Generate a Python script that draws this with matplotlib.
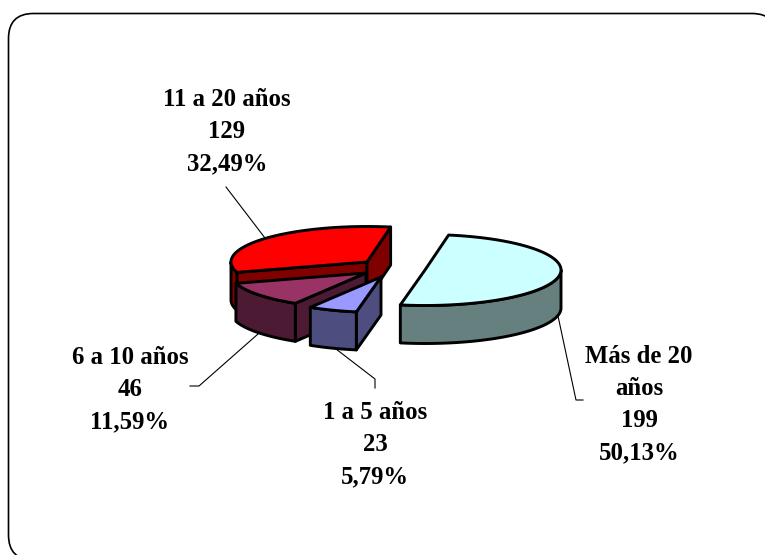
import numpy as np
import matplotlib
matplotlib.use("Agg")
import matplotlib.pyplot as plt
from matplotlib.patches import FancyBboxPatch, Polygon

categories = ["Más de 20\naños", "1 a 5 años", "6 a 10 años", "11 a 20 años"]
values = [199, 23, 46, 129]
percents = ["50,13%", "5,79%", "11,59%", "32,49%"]

top_colors = ["#CCFFFF", "#9999FF", "#993366", "#FF0000"]
side_colors = ["#668080", "#4D4D80", "#4D1A33", "#800000"]

# pixel layout of the exploded slices
centers = [(425, 270), (381, 277), (366, 273), (367, 262)]
label_pos = [(639, 345), (375, 401), (130, 346), (227, 88)]
leaders = [
    [(558, 316), (576, 400), (583, 400)],
    [(336, 349), (375, 379), (375, 388)],
    [(258, 334), (199, 386), (190, 386)],
    [(265, 238), (226, 187)],
]
RX, RY, DEPTH = 136, 35.5, 38
START = 80

fig = plt.figure(figsize=(7.65, 5.55), dpi=100)
ax = fig.add_axes([0, 0, 1, 1])
ax.set_xlim(0, 765)
ax.set_ylim(555, 0)
ax.axis("off")

# frame runs past the right and bottom edges of the image
ax.add_patch(FancyBboxPatch((33.5, 38.5), 718.5, 496.5, boxstyle="round,pad=25,rounding_size=25",
                            fc="white", ec="black", lw=1.2, zorder=0))


def arc(c, a, b, drop=0):
    t = np.radians(np.linspace(a, b, 80))
    return np.column_stack([c[0] + RX * np.cos(t), c[1] - RY * np.sin(t) + drop])


def pt(c, a):
    return arc(c, a, a)[0]


def draw(verts, color, z):
    ax.add_patch(Polygon(verts, closed=True, fc=color, ec="black", lw=2.1, joinstyle="round", zorder=z))


def radial_face(c, a, color, z):
    p = pt(c, a)
    draw([c, p, (p[0], p[1] + DEPTH), (c[0], c[1] + DEPTH)], color, z)


# slice limits, clockwise from START
sweep = 360 * np.array(values) / sum(values)
ends = START - np.cumsum(sweep)
starts = ends + sweep

# back slice first, so the exploded ones overlap it
order = [3, 2, 1, 0]
for n, i in enumerate(order):
    z = 2 + n
    c, a, b = centers[i], starts[i], ends[i]
    # cut faces turned towards the viewer
    if np.sin(np.radians(a + 90)) < 0:
        radial_face(c, a, side_colors[i], z)
    if np.sin(np.radians(b - 90)) < 0:
        radial_face(c, b, side_colors[i], z)
    # outer wall, front half only
    k = np.ceil((a - 180) / 360)
    lo, hi = 360 * k - 180, 360 * k
    w0, w1 = min(a, hi), max(b, lo)
    if w0 > w1:
        draw(np.vstack([arc(c, w0, w1), arc(c, w1, w0, DEPTH)]), side_colors[i], z)
    draw(np.vstack([[c], arc(c, a, b)]), top_colors[i], z)

for i, name in enumerate(categories):
    xs, ys = zip(*leaders[i])
    ax.plot(xs, ys, color="black", lw=0.8, zorder=1)
    ax.text(label_pos[i][0], label_pos[i][1], f"{name}\n{values[i]}\n{percents[i]}",
            ha="center", va="top", family="Liberation Serif", weight="bold",
            fontsize=17.8, linespacing=1.5, color="black", zorder=10)

fig.savefig("out.png", dpi=100)
